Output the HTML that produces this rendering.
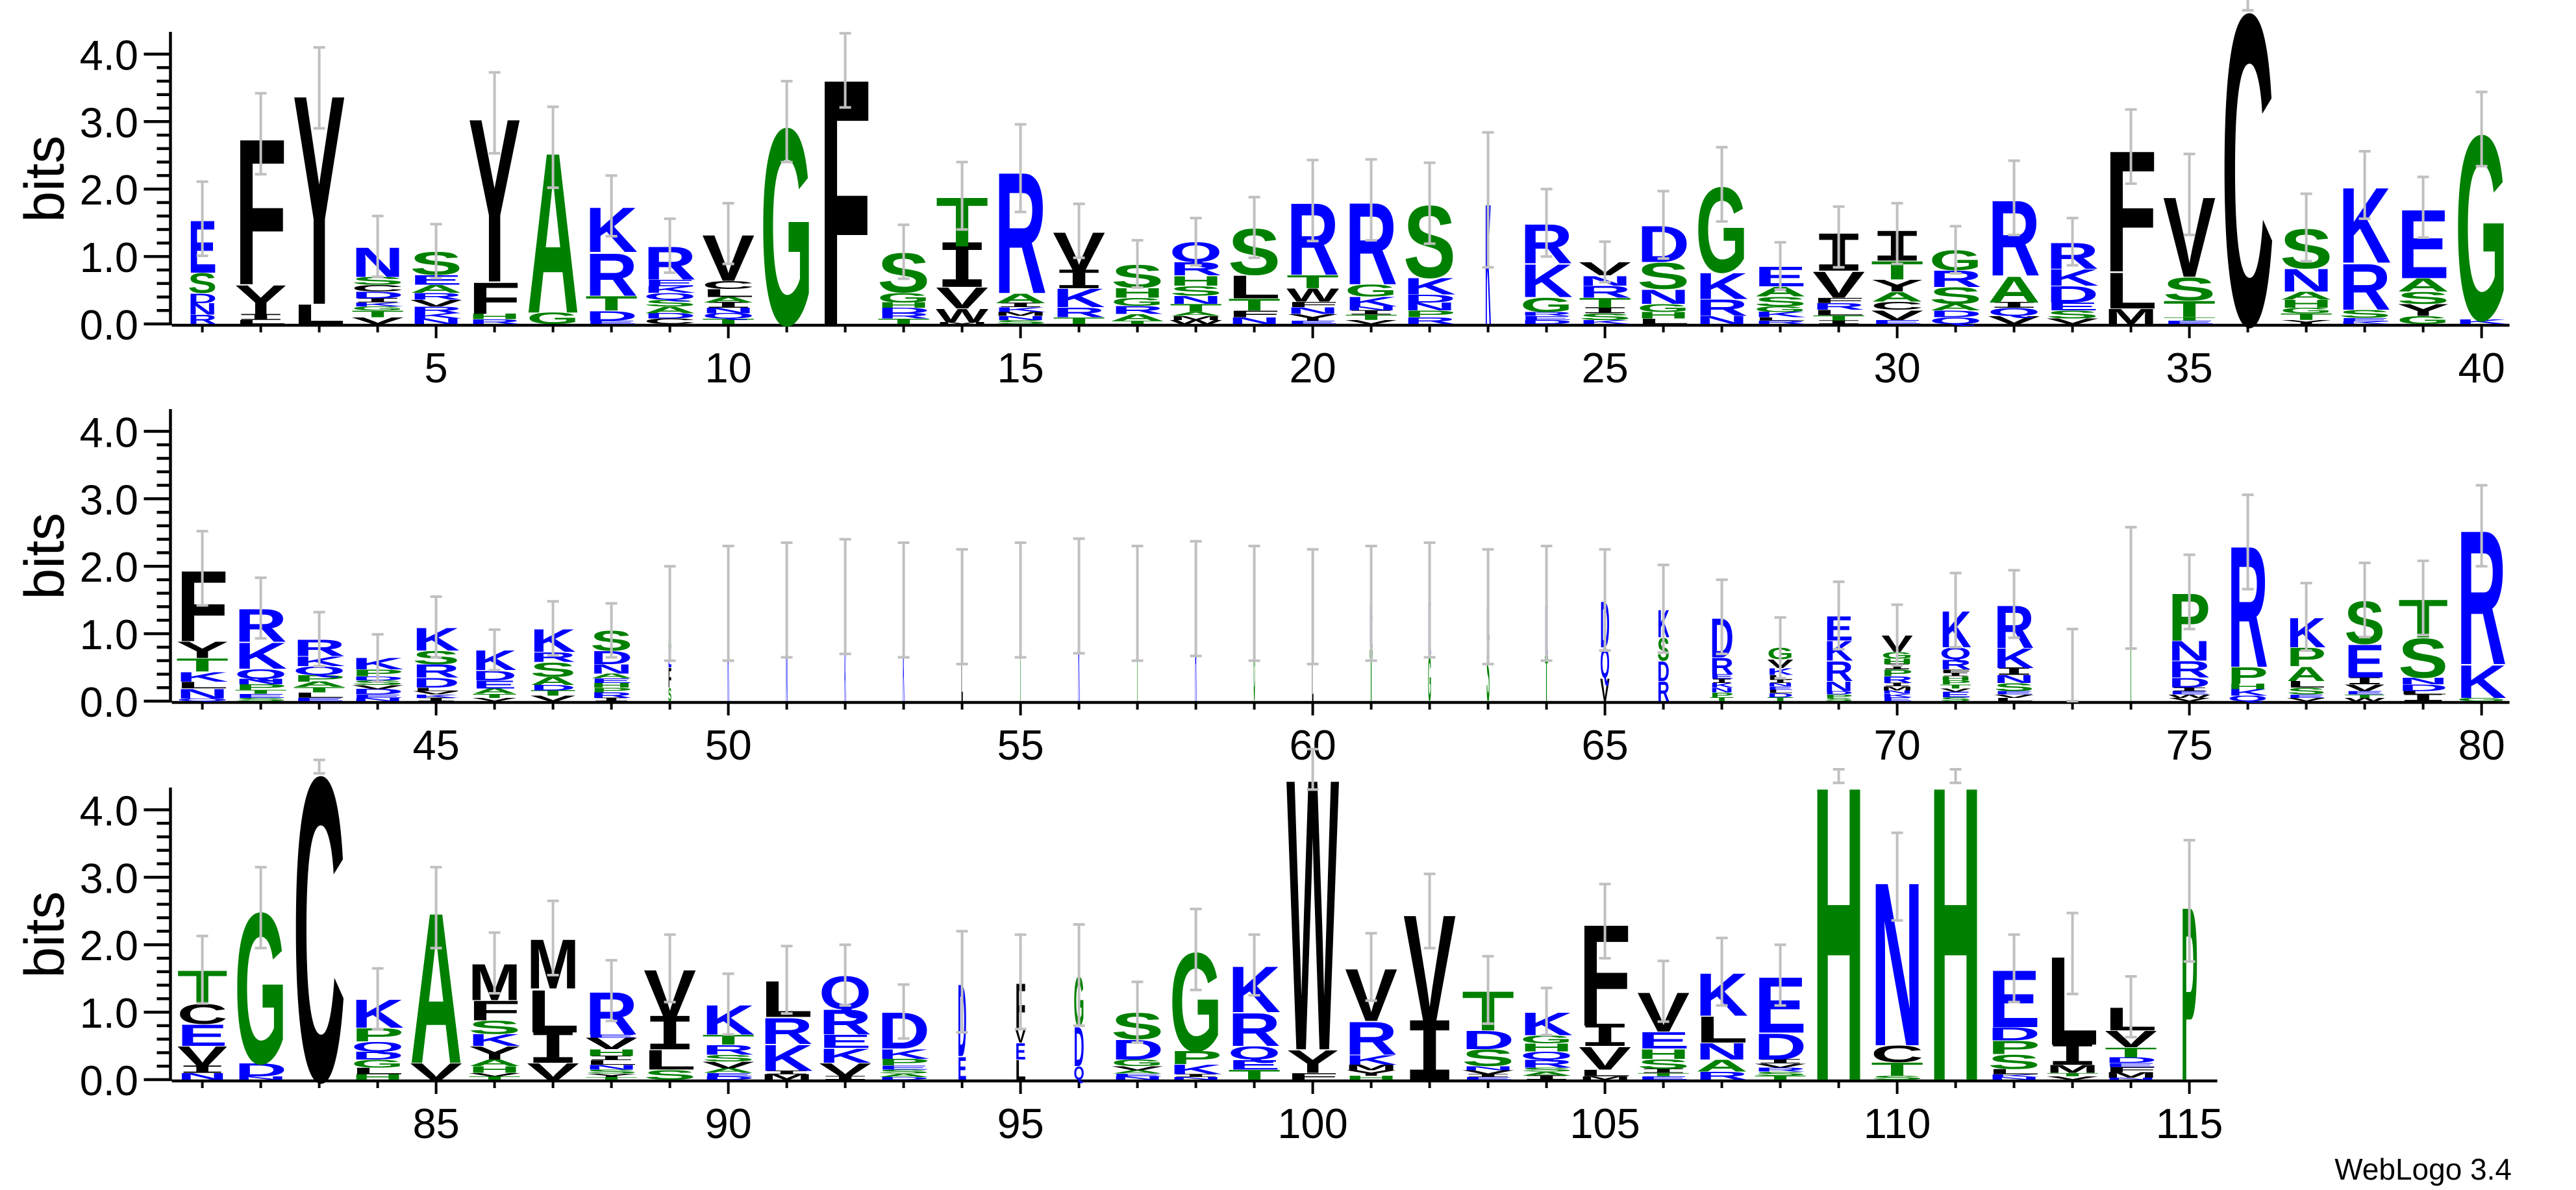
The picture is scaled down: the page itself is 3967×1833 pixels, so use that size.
<!DOCTYPE html>
<html><head><meta charset="utf-8"><style>
html,body{margin:0;padding:0;background:#fff;}
svg{display:block;font-family:"Liberation Sans",sans-serif;}
</style></head><body>
<svg id="logo" width="3967" height="1833" viewBox="0 0 3967 1833" xmlns="http://www.w3.org/2000/svg">
<rect width="3967" height="1833" fill="#fff"/>
<text x="3868" y="1817" font-size="46" text-anchor="end" fill="#000">WebLogo 3.4</text>
</svg>
<script>
const positions = [];
for (let i = 1; i <= 115; i++) positions.push(i);
const stacks = [
"R:.14 N:.17 D:.15 S:.3 E:.8","L:.06 I:.08 Y:.45 F:2.23","L:.3 Y:3.2","V:.1 T:.1 G:.06 K:.06 I:.06 D:.1 C:.1 S:.12 N:.45","N:.08 K:.08 R:.1 V:.1 R:.1 A:.12 E:.15 S:.35",
"R:.07 H:.08 F:.48 Y:2.5","G:.17 A:2.45","E:.05 D:.15 T:.22 R:.65 K:.68","C:.08 D:.08 A:.1 S:.1 Q:.1 K:.1 E:.1 R:.5","T:.08 Q:.08 N:.08 I:.08 A:.08 L:.12 C:.12 V:.7",
"G:3.0","F:3.76","T:.08 R:.08 D:.08 H:.08 G:.15 S:.6","M:.03 W:.2 V:.32 I:.6 T:.75","S:.06 N:.06 M:.06 K:.07 I:.06 A:.15 R:1.85",
"T:.1 R:.15 K:.28 I:.25 V:.6","T:.05 A:.1 R:.12 G:.12 H:.15 S:.35","W:.06 M:.06 A:.06 T:.12 N:.12 S:.15 H:.15 R:.2 Q:.3","N:.1 F:.1 T:.18 L:.35 S:.7","E:.05 Y:.1 N:.1 F:.08 W:.2 T:.2 R:1.1",
"V:.06 T:.08 I:.06 N:.06 K:.15 G:.18 R:1.25","R:.1 P:.1 N:.12 D:.12 K:.25 S:1.1","K:1.84","D:.06 E:.06 R:.06 G:.22 K:.5 R:.6","K:.06 S:.1 I:.08 T:.15 R:.18 N:.15 V:.2",
"L:.08 H:.1 G:.12 N:.22 S:.4 D:.55","N:.12 R:.25 K:.4 G:1.3","R:.05 L:.05 K:.08 G:.08 S:.15 A:.15 E:.3","I:.05 T:.08 L:.08 R:.1 F:.08 V:.4 I:.5","E:.06 V:.15 C:.12 A:.15 Y:.18 T:.28 I:.4",
"Q:.1 D:.1 A:.1 S:.25 R:.25 G:.3","V:.12 Q:.12 I:.08 A:.4 R:1.15","V:.08 S:.12 E:.12 D:.25 K:.25 R:.4","M:.23 L:.55 F:1.85","E:.05 T:.05 T:.25 S:.35 V:1.22",
"C:4.75","Y:.06 T:.1 G:.08 H:.12 A:.12 N:.35 S:.6","K:.04 E:.05 S:.12 R:.7 K:1.15","G:.12 Y:.18 S:.18 A:.2 E:1.05","K:.07 G:2.82",
"Q:.04 N:.15 L:.1 K:.15 T:.2 Y:.25 F:1.08","S:.05 E:.06 T:.06 P:.08 N:.08 Q:.15 K:.4 R:.5","E:.05 L:.08 T:.08 A:.08 P:.1 Q:.13 K:.15 R:.25","N:.05 E:.05 D:.08 V:.06 S:.07 D:.06 P:.1 K:.17","I:.05 K:.05 V:.05 L:.05 D:.15 R:.2 S:.2 K:.35",
"V:.05 T:.06 A:.08 E:.12 D:.15 K:.3","V:.08 T:.08 D:.08 A:.12 S:.22 R:.15 K:.35","I:.05 R:.08 P:.07 H:.07 E:.07 A:.07 N:.14 D:.2 S:.3","S:.2 F:.3 E:.3 A:.5","K:1.45",
"N:.9 G:.6","K:.8 S:.75","K:.9 S:.6","L:.9 T:.5","T:1.5",
"K:1.56","T:1.45","R:1.52","G:1.45","L:.7 G:.7",
"T:.8 R:.65","G:.7 K:.8","S:.9 L:.5","T:.7 K:.75","V:.35 Q:.45 D:.7",
"R:.3 D:.3 S:.35 K:.42","T:.06 P:.07 N:.07 K:.07 I:.06 E:.07 R:.25 D:.6","T:.06 D:.06 L:.05 E:.05 N:.05 I:.05 L:.07 K:.1 V:.13 G:.17","S:.05 P:.05 D:.05 N:.15 R:.3 K:.3 E:.37","E:.06 K:.05 N:.05 M:.06 I:.05 R:.1 P:.1 I:.08 H:.08 G:.1 V:.25",
"S:.06 E:.08 V:.05 T:.06 P:.06 H:.06 I:.05 F:.05 R:.15 Q:.18 K:.55","L:.05 V:.05 E:.05 S:.12 N:.12 I:.1 K:.3 R:.65","L:.27","T:1.68","V:.05 W:.05 E:.05 I:.05 D:.15 R:.25 N:.3 P:.72",
"Q:.08 K:.1 H:.08 P:.25 R:1.85","V:.05 E:.05 S:.1 L:.1 A:.22 P:.28 K:.45","W:.05 T:.05 E:.05 V:.1 I:.1 E:.5 S:.65","I:.1 L:.05 D:.1 N:.1 S:.6 T:.58","G:.05 K:.5 R:2.05",
"N:.1 I:.1 V:.3 E:.33 C:.3 T:.5","N:.05 D:.2 G:2.3","C:4.64","H:.08 L:.1 G:.12 D:.12 Q:.15 P:.2 K:.43","V:.25 A:2.3",
"T:.05 V:.05 H:.1 A:.1 Y:.2 K:.18 S:.2 F:.3 M:.55","V:.25 I:.45 L:.65 M:.75","T:.04 Y:.05 S:.06 N:.07 L:.07 I:.06 H:.1 V:.17 E:.05 R:.65","S:.15 L:.3 I:.45 V:.75","D:.05 E:.05 A:.07 V:.1 S:.1 R:.15 T:.15 K:.45",
"M:.08 I:.05 K:.4 R:.4 L:.55","I:.05 V:.2 K:.22 E:.2 R:.38 Q:.5","D:.04 A:.05 S:.06 E:.06 P:.1 K:.15 D:.55","E:.35 D:1.1","L:.3 E:.25 V:.2 F:.7",
"Q:.2 D:.6 G:.75","N:.05 E:.04 A:.05 V:.06 G:.1 D:.3 S:.4","N:.04 I:.04 K:.15 P:.2 G:1.5","T:.15 E:.15 Q:.2 R:.5 K:.7","F:.1 Y:.35 W:4.15",
"H:.06 Y:.08 M:.08 K:.15 R:.5 V:.8","I:.8 V:1.7","E:.04 I:.04 V:.06 N:.06 S:.25 D:.28 T:.6","I:.06 A:.06 S:.06 R:.12 Q:.12 H:.12 G:.12 K:.35","M:.05 L:.1 V:.35 I:.3 F:1.55",
"E:.05 T:.05 I:.06 S:.15 H:.15 E:.25 V:.6","R:.12 A:.18 N:.25 L:.4 K:.65","T:.06 S:.06 R:.06 V:.06 I:.06 D:.4 E:.85","H:4.5","S:.06 T:.2 C:.25 N:2.5",
"H:4.5","N:.04 K:.04 L:.08 S:.22 P:.2 D:.2 E:.87","V:.05 T:.05 M:.12 I:.3 L:1.35","N:.03 M:.08 F:.08 E:.06 D:.08 T:.15 V:.25 L:.35","P:2.65"
];
const widthFrac = [
.55,1,1,1,1,1,1,1,1,1, 1,1,1,1,1,1,1,1,1,1, 1,1,.11,1,1,1,1,1,1,1, 1,1,1,1,1,1,1,1,1,1,
1,1,1,1,.9,.85,.87,.8,.06,.03, .03,.03,.03,.03,.03,.03,.03,.03,.03,.03, .06,.06,.06,.06,.18,.23,.45,.5,.55,.6, .6,.77,.03,.04,.8,.77,.75,.77,.95,.95,
.96,1,1,1,1,1,1,1,1,1, 1,1,1,.17,.2,.2,1,1,1,1, 1,1,1,1,1,1,1,1,1,1, 1,1,1,1,.32
];
const errHalf = [
.55,.6,.6,.45,.4,.6,.6,.45,.4,.45, .6,.55,.4,.5,.65,.4,.35,.35,.45,.6, .6,.6,1.0,.5,.3,.5,.55,.35,.45,.45, .35,.55,.35,.55,.6,.1,.5,.5,.45,.55,
.55,.45,.4,.35,.45,.3,.4,.4,.7,.85, .85,.85,.85,.85,.85,.85,.85,.85,.85,.85, .85,.85,.85,.85,.75,.65,.55,.45,.5,.45, .55,.5,.8,.9,.55,.7,.5,.55,.55,.6,
.5,.6,.1,.45,.6,.45,.55,.45,.5,.45, .5,.45,.4,.75,.7,.75,.45,.6,.45,.3, .5,.55,.5,.35,.55,.45,.5,.45,.1,.65, .1,.5,.6,.45,.9
];
const yTickLabels = ["0.0","1.0","2.0","3.0","4.0"];

const NS = "http://www.w3.org/2000/svg";
const svg = document.getElementById('logo');
const ROWS = [{s:1,e:40,base:499},{s:41,e:80,base:1080},{s:81,e:115,base:1663}];
const BIT = 103.9, X0 = 311.6, STEP = 90, COLW = 81, AXX = 262.5;
function colorOf(c){ if("RKDENQ".includes(c)) return "#0000ff"; if("SGHTAP".includes(c)) return "#008000"; return "#000000"; }
function xPos(p){ return X0 + ((p-1)%40)*STEP; }
function yPos(row, bits){ return row.base - bits*BIT; }
function mk(tag, attrs){ const el=document.createElementNS(NS,tag); for(const k in attrs) el.setAttribute(k, attrs[k]); return el; }

ROWS.forEach((row, ri) => {
  const g = mk('g', {});
  
  
  svg.appendChild(g);
  const ya = mk('line', {x1:AXX, x2:AXX, y1:row.base - 4.33*BIT, y2:row.base+2, stroke:'#000','stroke-width':4.5});
  
  
  g.appendChild(ya);
  for (let t = 0; t <= 20; t++) {
    const v = t*0.2, major = (t%5===0);
    const y = yPos(row, v);
    const tk = mk('line', {x1: major ? AXX-41 : AXX-21, x2: AXX, y1:y, y2:y, stroke:'#000','stroke-width':4.5});
    
    
    g.appendChild(tk);
    if (major) {
      const tl = mk('text', {x:213, y:y+24, 'font-size':65, 'text-anchor':'end', fill:'#000'});
      tl.textContent = yTickLabels[t/5];
      
      
      g.appendChild(tl);
    }
  }
  const yl = mk('text', {x:0, y:0, 'font-size':86, 'text-anchor':'middle', fill:'#000', transform:`translate(98,${row.base-2.15*BIT}) rotate(-90)`});
  yl.textContent = 'bits';
  
  
  g.appendChild(yl);
  const xa = mk('line', {x1:AXX+2, x2:xPos(row.e)+43, y1:row.base+2, y2:row.base+2, stroke:'#000','stroke-width':4.5});
  
  
  g.appendChild(xa);
  for (let p = row.s; p <= row.e; p++) {
    const x = xPos(p), major = (p%5===0);
    const tk = mk('line', {x1:x, x2:x, y1:row.base+2, y2:row.base + (major?22:13), stroke:'#000','stroke-width':4});
    
    
    g.appendChild(tk);
    if (major) {
      const tl = mk('text', {x:x, y:row.base+90, 'font-size':65, 'text-anchor':'middle', fill:'#000'});
      tl.textContent = String(positions[p-1]);
      
      
      g.appendChild(tl);
    }
    const w = COLW * widthFrac[p-1];
    let acc = 0;
    const sg = mk('g', {});
    
    
    g.appendChild(sg);
    stacks[p-1].split(' ').forEach(tok => {
      const [ch, hs] = tok.split(':');
      const h = parseFloat(hs);
      const yb = yPos(row, acc);
      const hp = h*BIT;
      acc += h;
      const isI = (ch === 'I');
      const t = mk('text', {x:x - w/2, y:0, 'font-size':100, 'font-weight':'bold', fill:colorOf(ch),
        'font-family': isI ? '"Liberation Mono", monospace' : '"Liberation Sans", sans-serif',
        textLength: Math.max(w,0.5), lengthAdjust:'spacingAndGlyphs',
        transform:`translate(0,${yb.toFixed(2)}) scale(1,${(hp/(isI?60:72)).toFixed(4)})`});
      t.textContent = ch;
      
      
      sg.appendChild(t);
    });
    // error bar
    const e = errHalf[p-1];
    const yt = yPos(row, acc + e), ybot = yPos(row, Math.max(acc - e, 0));
    const eb = mk('g', {stroke:'#c0c0c0', 'stroke-width':4});
    
    
    eb.appendChild(mk('line', {x1:x, x2:x, y1:yt, y2:ybot}));
    eb.appendChild(mk('line', {x1:x-9, x2:x+9, y1:yt, y2:yt}));
    eb.appendChild(mk('line', {x1:x-9, x2:x+9, y1:ybot, y2:ybot}));
    sg.appendChild(eb);
  }
});
</script>
</body></html>
